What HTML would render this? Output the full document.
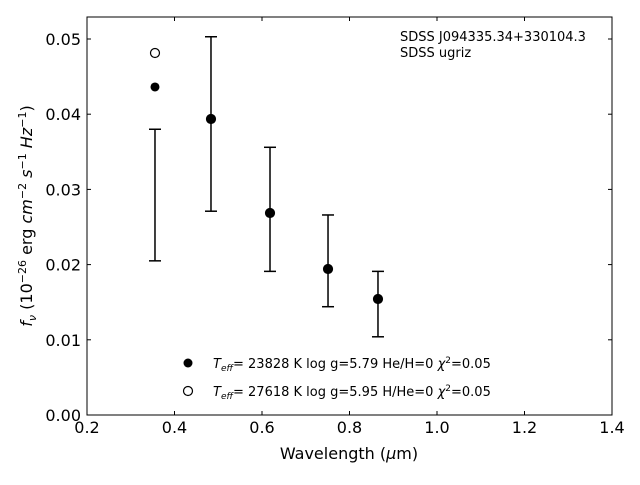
<!DOCTYPE html>
<html><head><meta charset="utf-8"><style>
body{margin:0;background:#fff}
svg{font-family:"DejaVu Sans","Liberation Sans",sans-serif}
</style></head><body>
<svg id="chart" width="640" height="480" viewBox="0 0 640 480" xmlns="http://www.w3.org/2000/svg">
<rect width="640" height="480" fill="#fff"/>
<g id="marks"></g>
<rect x="87" y="17" width="525" height="398" fill="none" stroke="#000" stroke-width="1"/>
<g id="axes"></g>
<text x="400" y="41" font-size="13">SDSS J094335.34+330104.3</text>
<text x="400" y="57" font-size="13">SDSS ugriz</text>
<text x="349" y="459" font-size="16" text-anchor="middle">Wavelength (<tspan font-style="italic">μ</tspan>m)</text>
<text transform="translate(32,216) rotate(-90)" font-size="16" text-anchor="middle"><tspan font-style="italic">f</tspan><tspan font-style="italic" font-size="11" dy="4">ν</tspan><tspan dy="-4"> (10</tspan><tspan font-size="11" dy="-6">−26</tspan><tspan dy="6"> erg </tspan><tspan font-style="italic">cm</tspan><tspan font-size="11" dy="-6">−2</tspan><tspan dy="6" font-style="italic"> s</tspan><tspan font-size="11" dy="-6">−1</tspan><tspan dy="6" font-style="italic"> Hz</tspan><tspan font-size="11" dy="-6">−1</tspan><tspan dy="6">)</tspan></text>
<g>
<circle cx="188" cy="363" r="4.5" fill="#000"/>
<text x="213" y="368" font-size="13"><tspan font-style="italic">T</tspan><tspan font-style="italic" font-size="9" dy="3">eff</tspan><tspan dy="-3">= 23828 K  log g=5.79  He/H=0  </tspan><tspan font-style="italic">χ</tspan><tspan font-size="9" dy="-5">2</tspan><tspan dy="5">=0.05</tspan></text>
<circle cx="188" cy="391" r="4.5" fill="#fff" stroke="#000" stroke-width="1.2"/>
<text x="213" y="396" font-size="13"><tspan font-style="italic">T</tspan><tspan font-style="italic" font-size="9" dy="3">eff</tspan><tspan dy="-3">= 27618 K  log g=5.95  H/He=0  </tspan><tspan font-style="italic">χ</tspan><tspan font-size="9" dy="-5">2</tspan><tspan dy="5">=0.05</tspan></text>
</g>
</svg>
<script>
const wavelengths=[0.3554,0.4834,0.6183,0.7509,0.8651];
const fluxFilled=[0.04362,0.03936,0.02686,0.01941,0.01543];
const fluxOpen=[0.04814,0.03936,0.02686,0.01941,0.01543];
const errLow=[0.0205,0.0271,0.0191,0.0144,0.0104];
const errHigh=[0.0380,0.0503,0.0356,0.0266,0.0191];
const xTicks=[0.2,0.4,0.6,0.8,1.0,1.2,1.4];
const yTicks=[0,0.01,0.02,0.03,0.04,0.05];
const X=v=>87+(v-0.2)*437.5;
const Y=v=>415-v*7520;
const NS="http://www.w3.org/2000/svg";
function mk(tag,attrs,parent){const e=document.createElementNS(NS,tag);for(const k in attrs)e.setAttribute(k,attrs[k]);parent.appendChild(e);return e;}
const marks=document.getElementById('marks'),axes=document.getElementById('axes');
wavelengths.forEach((w,i)=>{
 const x=X(w);
 const g=mk('g',{},marks);
 
 
 mk('line',{x1:x,x2:x,y1:Y(errLow[i]),y2:Y(errHigh[i]),stroke:'#000','stroke-width':1.5},g);
 mk('line',{x1:x-6,x2:x+6,y1:Y(errLow[i]),y2:Y(errLow[i]),stroke:'#000','stroke-width':1.5},g);
 mk('line',{x1:x-6,x2:x+6,y1:Y(errHigh[i]),y2:Y(errHigh[i]),stroke:'#000','stroke-width':1.5},g);
 const o=mk('circle',{cx:x,cy:Y(fluxOpen[i]),r:4.5,fill:'#fff',stroke:'#000','stroke-width':1.2},marks);
 
 
 const f=mk('circle',{cx:x,cy:Y(fluxFilled[i]),r:4.5,fill:'#000'},marks);
 
 
});
xTicks.forEach(t=>{
 const x=X(t);
 mk('line',{x1:x,x2:x,y1:415,y2:411,stroke:'#000'},axes);
 mk('line',{x1:x,x2:x,y1:17,y2:21,stroke:'#000'},axes);
 const tx=mk('text',{x:x,y:433,'font-size':16,'text-anchor':'middle'},axes);
 
 
 tx.textContent=t.toFixed(1);
});
yTicks.forEach(t=>{
 const y=Y(t);
 mk('line',{x1:87,x2:91,y1:y,y2:y,stroke:'#000'},axes);
 mk('line',{x1:612,x2:608,y1:y,y2:y,stroke:'#000'},axes);
 const tx=mk('text',{x:81,y:y+6,'font-size':16,'text-anchor':'end'},axes);
 
 
 tx.textContent=t.toFixed(2);
});
</script>
</body></html>
